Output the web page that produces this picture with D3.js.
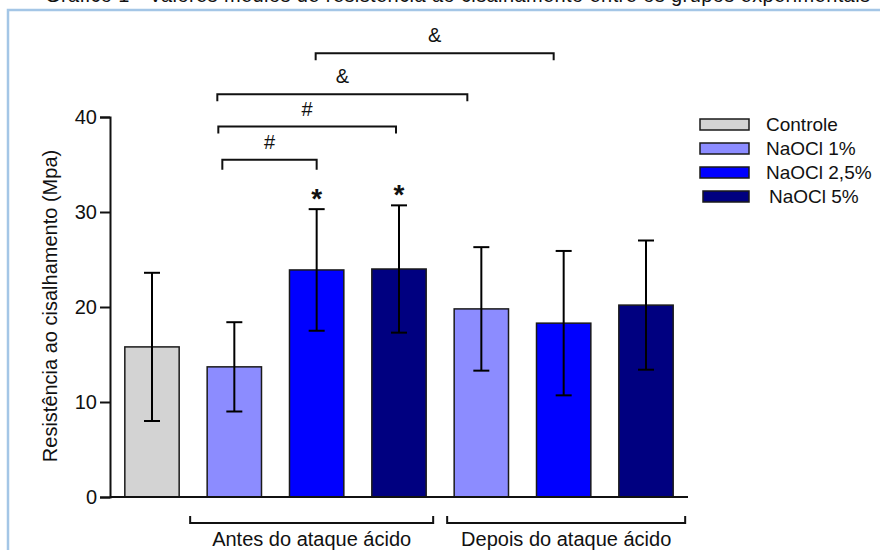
<!DOCTYPE html>
<html>
<head>
<meta charset="utf-8">
<script src="https://cdn.jsdelivr.net/npm/d3@7"></script>
<style>
  body { margin: 0; background: #fff; }
  text { font-family: Arial, "Liberation Sans", sans-serif; fill: #111; }
</style>
</head>
<body>
<div id="chart"></div>
<script>
// chart data
const categories = ["c", "a1", "a25", "a5", "d1", "d25", "d5"];
const series = ["Controle", "NaOCl 1%", "NaOCl 2,5%", "NaOCl 5%", "NaOCl 1%", "NaOCl 2,5%", "NaOCl 5%"];
const means = [15.8, 13.7, 23.9, 24.0, 19.8, 18.3, 20.2];
const sds = [7.8, 4.7, 6.4, 6.7, 6.5, 7.6, 6.8];
const yTicks = [0, 10, 20, 30, 40];
const legendNames = ["Controle", "NaOCl 1%", "NaOCl 2,5%", "NaOCl 5%"];
const stars = [2, 3];
// brackets: from bar, to bar, level (Mpa), label
const sigFrom = [2, 1, 1, 1];
const sigTo = [5, 4, 3, 2];
const sigLevel = [46.7, 42.4, 39.0, 35.5];
const sigLabel = ["&", "&", "#", "#"];
const groupNames = ["Antes do ataque ácido", "Depois do ataque ácido"];
const groupFrom = [1, 4];
const groupTo = [3, 6];

let width = 880, height = 550;

let svg = d3.select("#chart").append("svg")
  .attr("width", width)
  .attr("height", height);

// caption cut at the top of the picture
svg.append("text")
  .attr("x", 45)
  .attr("y", 1.5)
  .attr("font-size", 20)
  .attr("textLength", 825)
  .attr("fill", "#222")
  .text("Gráfico 1 - Valores médios de resistência ao cisalhamento entre os grupos experimentais");

// light blue frame
svg.append("path")
  .attr("d", "M8,560 L8,10 L890,10")
  .attr("fill", "none")
  .attr("stroke", "#a4c6e6")
  .attr("stroke-width", 2.5);

let color = d3.scaleOrdinal()
  .domain(legendNames)
  .range(["#d3d3d3", "#8c8cff", "#0000ff", "#000080"]);

let xScale = d3.scaleBand()
  .domain(categories)
  .range([110, 688])
  .paddingInner(0.34)
  .paddingOuter(0.18);

let yScale = d3.scaleLinear()
  .domain([0, 40])
  .range([497, 117]);

// axes
let yAxis = d3.axisLeft(yScale).tickValues(yTicks).tickSize(10).tickPadding(3);
let gy = svg.append("g")
  .attr("transform", "translate(110,0)")
  .call(yAxis);
gy.select(".domain").attr("stroke", "#111").attr("stroke-width", 2);
gy.selectAll(".tick line").attr("stroke", "#111").attr("stroke-width", 2);
gy.selectAll(".tick text")
  .attr("font-size", 20)
  .attr("font-family", "Arial, 'Liberation Sans', sans-serif")
  .attr("fill", "#111");

svg.append("text")
  .attr("transform", "translate(57,306) rotate(-90)")
  .attr("text-anchor", "middle")
  .attr("font-size", 20)
  .text("Resistência ao cisalhamento (Mpa)");

// bars
svg.selectAll(".bar")
  .data(categories)
  .enter()
  .append("rect")
  .attr("class", "bar")
  .attr("x", d => xScale(d))
  .attr("y", (d, i) => yScale(means[i]))
  .attr("width", xScale.bandwidth())
  .attr("height", (d, i) => yScale(0) - yScale(means[i]))
  .attr("fill", (d, i) => color(series[i]))
  .attr("stroke", "#1a1a1a")
  .attr("stroke-width", 1.5);

// error bars (mean +/- sd)
let cap = 8;
let err = svg.selectAll(".err")
  .data(categories)
  .enter()
  .append("g")
  .attr("class", "err")
  .attr("stroke", "#000")
  .attr("stroke-width", 2);
err.append("line")
  .attr("x1", d => xScale(d) + xScale.bandwidth() / 2)
  .attr("x2", d => xScale(d) + xScale.bandwidth() / 2)
  .attr("y1", (d, i) => yScale(means[i] + sds[i]))
  .attr("y2", (d, i) => yScale(means[i] - sds[i]));
err.append("line")
  .attr("x1", d => xScale(d) + xScale.bandwidth() / 2 - cap)
  .attr("x2", d => xScale(d) + xScale.bandwidth() / 2 + cap)
  .attr("y1", (d, i) => yScale(means[i] + sds[i]))
  .attr("y2", (d, i) => yScale(means[i] + sds[i]));
err.append("line")
  .attr("x1", d => xScale(d) + xScale.bandwidth() / 2 - cap)
  .attr("x2", d => xScale(d) + xScale.bandwidth() / 2 + cap)
  .attr("y1", (d, i) => yScale(means[i] - sds[i]))
  .attr("y2", (d, i) => yScale(means[i] - sds[i]));

// x axis line
svg.append("line")
  .attr("x1", 110)
  .attr("x2", 688)
  .attr("y1", yScale(0))
  .attr("y2", yScale(0))
  .attr("stroke", "#111")
  .attr("stroke-width", 2);

// asterisks
function center(i) {
  return xScale(categories[i]) + xScale.bandwidth() / 2;
}
svg.selectAll(".star")
  .data(stars)
  .enter()
  .append("text")
  .attr("class", "star")
  .attr("x", d => center(d))
  .attr("y", d => yScale(means[d] + sds[d]) - 1)
  .attr("text-anchor", "middle")
  .attr("font-size", 28)
  .attr("font-weight", "bold")
  .text("*");

// significance brackets (small nudges to match the original drawing)
let nudgeFrom = [-1, -17, -16, -12];
let nudgeTo = [-10, -14, -3, 0];
sigLabel.forEach(function(lab, k) {
  let x1 = center(sigFrom[k]) + nudgeFrom[k];
  let x2 = center(sigTo[k]) + nudgeTo[k];
  let y = yScale(sigLevel[k]);
  let leg = k === 3 ? 10 : 7;
  svg.append("path")
    .attr("d", "M" + x1 + "," + (y + leg) + " L" + x1 + "," + y + " L" + x2 + "," + y + " L" + x2 + "," + (y + leg))
    .attr("fill", "none")
    .attr("stroke", "#111")
    .attr("stroke-width", 2);
  svg.append("text")
    .attr("x", (x1 + x2) / 2)
    .attr("y", y - 11)
    .attr("text-anchor", "middle")
    .attr("font-size", 20)
    .text(lab);
});

// group brackets under the x axis
let gNudgeFrom = [-17, -7];
let gNudgeTo = [7, 12];
groupNames.forEach(function(name, k) {
  let x1 = xScale(categories[groupFrom[k]]) + gNudgeFrom[k];
  let x2 = xScale(categories[groupTo[k]]) + xScale.bandwidth() + gNudgeTo[k];
  let y = 523;
  svg.append("path")
    .attr("d", "M" + x1 + "," + (y - 7) + " L" + x1 + "," + y + " L" + x2 + "," + y + " L" + x2 + "," + (y - 7))
    .attr("fill", "none")
    .attr("stroke", "#111")
    .attr("stroke-width", 2);
  svg.append("text")
    .attr("x", (x1 + x2) / 2)
    .attr("y", 546)
    .attr("text-anchor", "middle")
    .attr("font-size", 20)
    .text(name);
});

// legend
let legend = svg.selectAll(".legend")
  .data(legendNames)
  .enter()
  .append("g")
  .attr("class", "legend")
  .attr("transform", (d, i) => "translate(700," + (124 + i * 24) + ")");
legend.append("rect")
  .attr("x", (d, i) => i === 3 ? 3 : 0)
  .attr("y", -5)
  .attr("width", (d, i) => i === 3 ? 46 : 49)
  .attr("height", 11)
  .attr("fill", d => color(d))
  .attr("stroke", "#1a1a1a")
  .attr("stroke-width", 1.5);
legend.append("text")
  .attr("x", (d, i) => i === 3 ? 69 : 66)
  .attr("y", 7)
  .attr("font-size", 19)
  .text(d => d);
</script>
</body>
</html>
